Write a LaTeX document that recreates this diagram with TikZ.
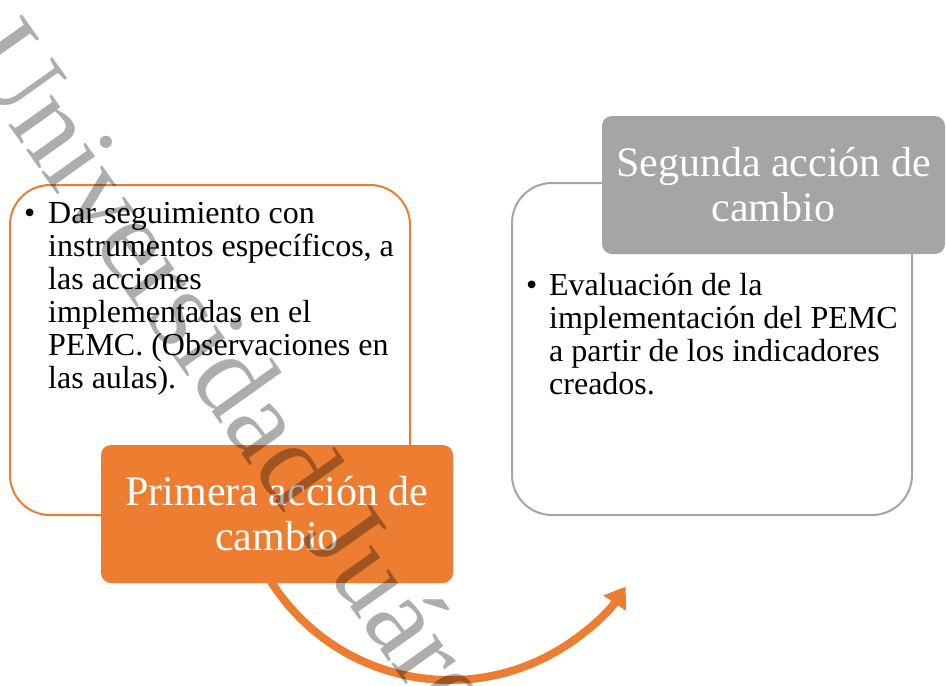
\documentclass[tikz,border=0pt]{standalone}
\usepackage{fontspec}
\setmainfont{Liberation Serif}[Ligatures=NoCommon]
\usetikzlibrary{arrows.meta,positioning}
\definecolor{pemcorange}{HTML}{ED7D31}
\definecolor{pemcgray}{HTML}{A5A5A5}

\begin{document}
\begin{tikzpicture}[
    x=1pt,
    y=1pt,
    outlinebox/.style={rectangle, rounded corners=40pt, line width=2pt, fill=white, inner sep=0pt},
    headbox/.style={rectangle, rounded corners=10pt, text=white, align=center, inner sep=0pt, minimum width=#1, minimum height=138pt, font=\fontsize{42}{45}\selectfont},
    bulletext/.style={anchor=north west, inner sep=0pt, font=\fontsize{32}{33}\selectfont},
    cyclearrow/.style={-{Triangle[length=20pt, width=26pt]}, line width=8pt, draw=pemcorange},
    watermark/.style={anchor=base west, inner sep=0pt, rotate=-54.6, text=black, text opacity=0.32, font=\fontsize{115}{115}\selectfont}
  ]
    \useasboundingbox (0,0) rectangle (946,-686);

    % arrow from the first step round to the second
    \coordinate (arccentre) at (450,-468);
    \draw[cyclearrow] (arccentre) ++(210:212) arc[start angle=210, end angle=326, radius=212pt];

    \node[outlinebox, draw=pemcorange, minimum width=400pt, minimum height=330pt] (leftframe) at (210,-350) {};
    \node[outlinebox, draw=pemcgray, minimum width=400pt, minimum height=332pt] (rightframe) at (712,-349) {};

    \node[headbox=352pt, fill=pemcorange] (primera) at (277,-514) {Primera acción de\\cambio};
    \node[headbox=343pt, fill=pemcgray] (segunda) at (773.5,-185) {Segunda acción de\\cambio};

    \node[bulletext] (lefttext) at (24,-200) {\begin{tabular}{@{}p{24pt}@{}l@{}}
      \textbullet & Dar seguimiento con\\
      & instrumentos específicos, a\\
      & las acciones\\
      & implementadas en el\\
      & PEMC. (Observaciones en\\
      & las aulas).
    \end{tabular}};
    \node[bulletext] (righttext) at (526,-272) {\begin{tabular}{@{}p{23pt}@{}l@{}}
      \textbullet & Evaluación de la\\
      & implementación del PEMC\\
      & a partir de los indicadores\\
      & creados.
    \end{tabular}};

    \begin{scope}
      \clip (0,0) rectangle (946,-686);
      \node[watermark] (univ) at (-41,-56) {Universidad Juárez};
    \end{scope}
  \end{tikzpicture}
\end{document}
